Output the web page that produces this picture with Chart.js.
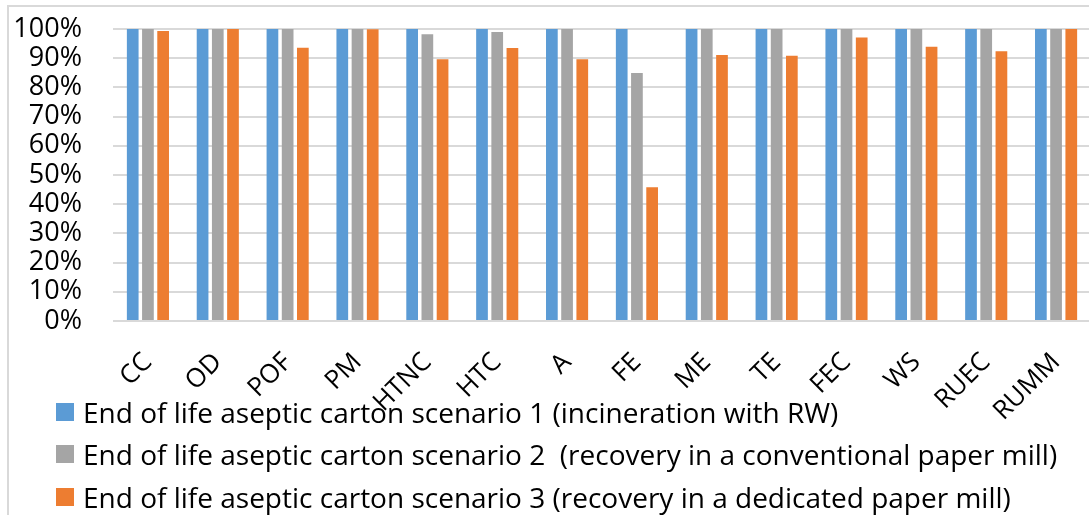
<!DOCTYPE html>
<html>
<head>
<meta charset="utf-8">
<script src="https://cdn.jsdelivr.net/npm/chart.js@4/dist/chart.umd.min.js"></script>
<style>
    html, body { margin: 0; padding: 0; background: #fff; overflow: hidden; }
    #wrap { position: relative; width: 1089px; height: 515px; overflow: hidden;
            font-family: 'Open Sans', sans-serif; color: #000; }
    #frame { position: absolute; left: 7px; top: 5px; width: 2000px; height: 2000px;
             border-left: 2px solid #d9d9d9; border-top: 2px solid #d9d9d9; }
    #chart { position: absolute; left: 0; top: 0; }
    .legend-row { position: absolute; left: 56px; height: 42px; display: flex; align-items: center;
                  white-space: pre; font-size: 28px; line-height: 42px; }
    .legend-box { width: 18px; height: 18px; margin-right: 9px; flex: none; }
</style>
</head>
<body>
<div id="wrap">
    <div id="frame"></div>
    <canvas id="chart" width="1095" height="451" style="width:1095px;height:451px;"></canvas>
    <div id="legend"></div>
</div>
<script>
// impact categories
const categories = ['CC', 'OD', 'POF', 'PM', 'HTNC', 'HTC', 'A', 'FE', 'ME', 'TE', 'FEC', 'WS', 'RUEC', 'RUMM'];

const seriesNames = [
    'End of life aseptic carton scenario 1 (incineration with RW)',
    'End of life aseptic carton scenario 2  (recovery in a conventional paper mill)',
    'End of life aseptic carton scenario 3 (recovery in a dedicated paper mill)'
];

// values in %
const scenario1 = [100, 100, 100, 100, 100, 100, 100, 100, 100, 100, 100, 100, 100, 100];
const scenario2 = [100, 100, 100, 100, 98.2, 99.0, 100, 84.9, 100, 100, 100, 100, 100, 100];
const scenario3 = [99.3, 100, 93.6, 99.9, 89.6, 93.5, 89.6, 45.8, 91.1, 90.8, 97.1, 93.9, 92.4, 100];

const colors = ['#5B9BD5', '#A5A5A5', '#ED7D31'];

Chart.defaults.font.family = "'Open Sans', sans-serif";
Chart.defaults.color = '#000';

const ctx = document.getElementById('chart').getContext('2d');
const chart = new Chart(ctx, {
    type: 'bar',
    data: {
        labels: categories,
        datasets: [scenario1, scenario2, scenario3].map((values, i) => ({
            label: seriesNames[i],
            data: values,
            backgroundColor: colors[i],
            borderWidth: 0,
            categoryPercentage: 0.653,
            barPercentage: 0.77
        }))
    },
    options: {
        responsive: false,
        animation: false,
        layout: { padding: { left: 8, right: 4, top: 29, bottom: 0 } },
        plugins: {
            tooltip: { enabled: false },
            legend: { display: false }
        },
        scales: {
            x: {
                grid: { display: false, drawTicks: false },
                border: { display: false },
                ticks: {
                    font: { size: 26 },
                    minRotation: 45,
                    maxRotation: 45,
                    autoSkip: false,
                    padding: 26
                },
                afterFit: scale => {
                    scale.height = 130;
                    scale.paddingLeft = 0;
                    scale.paddingRight = 0;
                }
            },
            y: {
                min: 0,
                max: 100,
                grid: { color: '#d9d9d9', lineWidth: 2, drawTicks: false },
                border: { display: false },
                ticks: {
                    stepSize: 10,
                    autoSkip: false,
                    font: { size: 27 },
                    padding: 31,
                    callback: v => v + '%'
                },
                afterFit: scale => {
                    // fixed width; the label gap should not push the plot down
                    scale.width = 105;
                    scale.paddingTop = 0;
                    scale.paddingBottom = 0;
                }
            }
        }
    }
});

// legend, one row per series, built from the chart's datasets
const legendTops = [391, 433, 476];
const legend = document.getElementById('legend');
chart.data.datasets.forEach((ds, i) => {
    const row = document.createElement('div');
    row.className = 'legend-row';
    row.style.top = legendTops[i] + 'px';
    const box = document.createElement('span');
    box.className = 'legend-box';
    box.style.background = ds.backgroundColor;
    const text = document.createElement('span');
    text.textContent = ds.label;
    row.appendChild(box);
    row.appendChild(text);
    legend.appendChild(row);
});
</script>
</body>
</html>
